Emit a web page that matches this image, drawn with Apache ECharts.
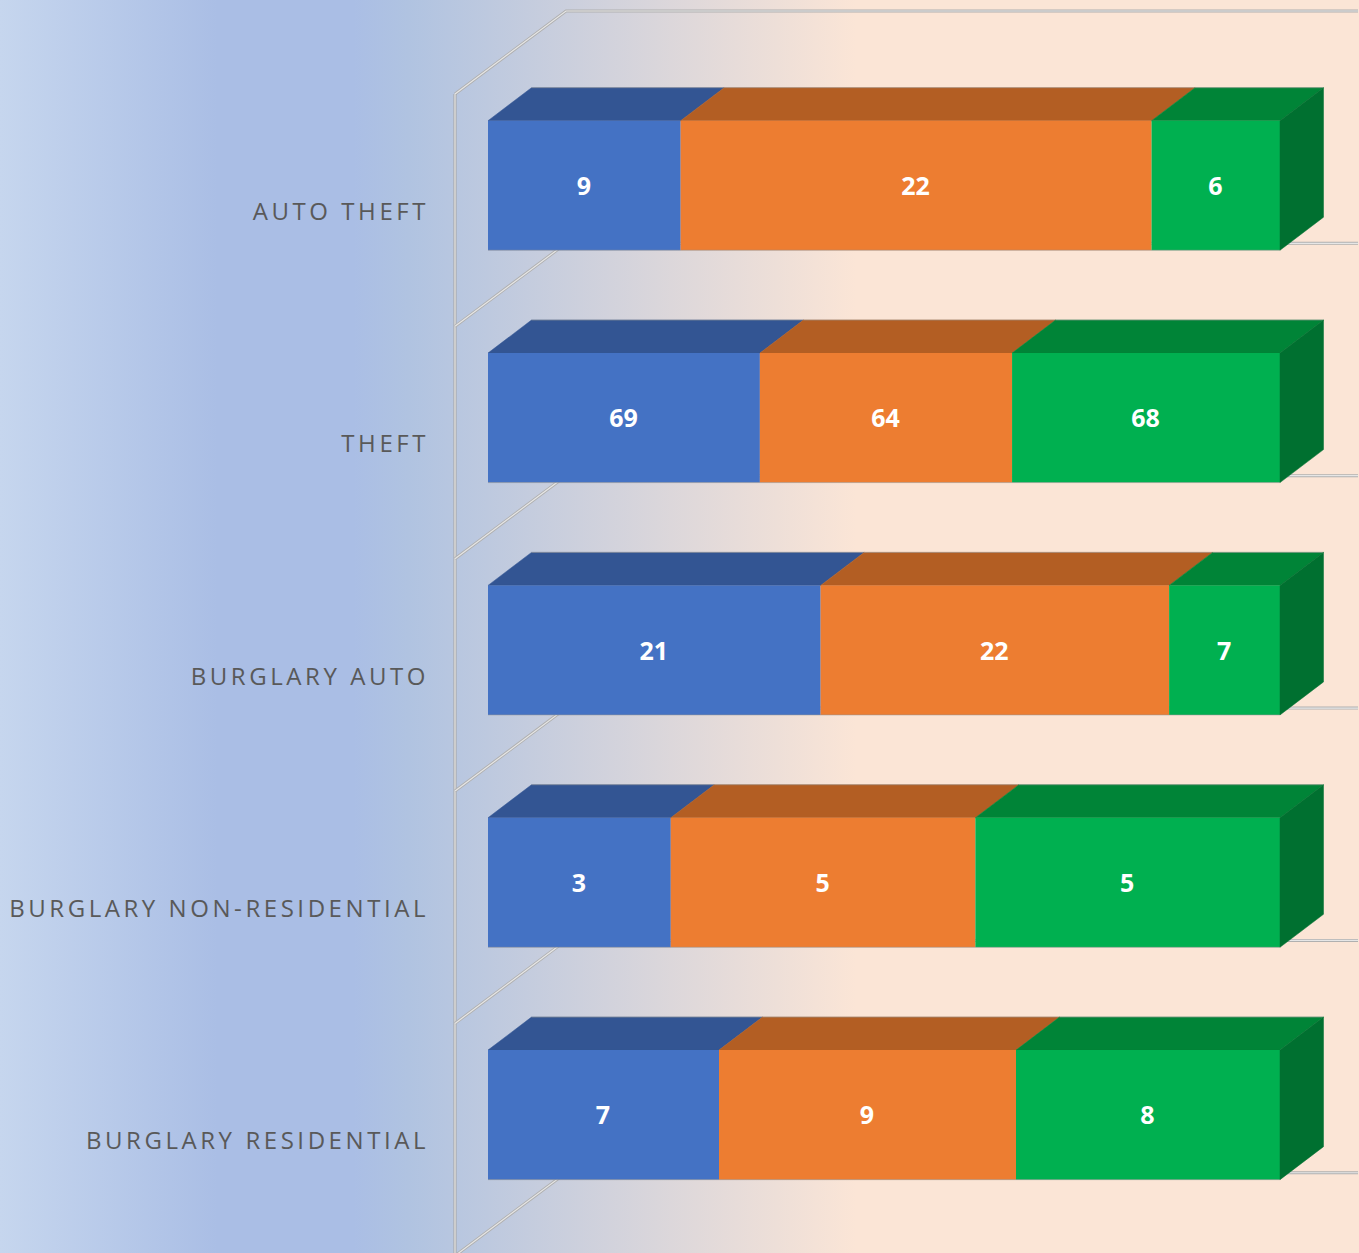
<!DOCTYPE html>
<html>
<head>
<meta charset="utf-8">
<style>
html,body{margin:0;padding:0;width:1359px;height:1253px;overflow:hidden}
#chart{width:1359px;height:1253px}
#chart text:not([style*="bold"]){letter-spacing:3.56px}
</style>
<script src="https://cdn.jsdelivr.net/npm/echarts@6/dist/echarts.min.js"></script>
</head>
<body>
<div id="chart"></div>
<script>
const categories = ['AUTO THEFT', 'THEFT', 'BURGLARY AUTO', 'BURGLARY NON-RESIDENTIAL', 'BURGLARY RESIDENTIAL'];
const seriesA = [9, 69, 21, 3, 7];
const seriesB = [22, 64, 22, 5, 9];
const seriesC = [6, 68, 7, 5, 8];
const allSeries = [seriesA, seriesB, seriesC];
const frontColors = ['#4472C4', '#ED7D31', '#00B050'];
const topColors = ['#335593', '#B35E23', '#008437'];
const sideColor = '#007030';
const barRatio = 0.5575;
const depthX = 43.5, depthY = 33;
const wallX = 111, wallY = 83, wallFrontDrop = 24.7;

function buildRows(idx) {
  return categories.map((c, i) => {
    const total = allSeries.reduce((s, a) => s + a[i], 0);
    let before = 0;
    for (let k = 0; k < idx; k++) before += allSeries[k][i];
    return [before / total, (before + allSeries[idx][i]) / total, i, allSeries[idx][i]];
  });
}

function barRender(idx) {
  return function (params, api) {
    const start = api.coord([api.value(0), api.value(2)]);
    const end = api.coord([api.value(1), api.value(2)]);
    const h = api.size([0, 1])[1] * barRatio;
    const x0 = start[0], x1 = end[0], y0 = start[1] - h / 2, y1 = start[1] + h / 2;
    const edge = 'rgba(150,150,150,0.55)';
    const children = [
      { type: 'polygon', shape: { points: [[x0, y0], [x0 + depthX, y0 - depthY], [x1 + depthX, y0 - depthY], [x1, y0]] },
        style: { fill: topColors[idx], stroke: topColors[idx], lineWidth: 0.5 } },
      { type: 'rect', shape: { x: x0, y: y0, width: x1 - x0, height: h },
        style: { fill: frontColors[idx] } },
      { type: 'line', shape: { x1: x0, y1: y1, x2: x1, y2: y1 }, style: { stroke: edge, lineWidth: 1 } },
      { type: 'line', shape: { x1: x0 + depthX, y1: y0 - depthY, x2: x1 + depthX, y2: y0 - depthY }, style: { stroke: edge, lineWidth: 1 } }
    ];
    if (idx === allSeries.length - 1) {
      children.push({ type: 'polygon', shape: { points: [[x1, y0], [x1 + depthX, y0 - depthY], [x1 + depthX, y1 - depthY], [x1, y1]] },
        style: { fill: sideColor, stroke: sideColor, lineWidth: 0.5 } });
    }
    children.push({ type: 'text', style: { text: String(api.value(3)), x: (x0 + x1) / 2 - 0.5, y: start[1] - 0.5,
      align: 'center', verticalAlign: 'middle', fill: '#FFFFFF', font: 'bold 25px "Open Sans", sans-serif' } });
    return { type: 'group', children };
  };
}

function wallRender(params, api) {
  const i = api.value(0);
  const band = api.size([0, 1])[1];
  const p0 = api.coord([0, 0]);
  const y = p0[1] - band / 2 + band * i;
  const x = p0[0];
  const right = api.coord([1, 0])[0];
  const fx = x - 33, fy = y + wallFrontDrop, bx = fx + wallX, by = fy - wallY;
  const pts = [[fx, fy], [bx, by], [right + 78, by]];
  const out = [
    { type: 'polyline', shape: { points: pts }, style: { fill: 'none', stroke: '#B0B0B0', lineWidth: 3 } },
    { type: 'polyline', shape: { points: pts }, style: { fill: 'none', stroke: '#E6E6E6', lineWidth: 1.2 } }
  ];
  if (i === 0) {
    const v = [[fx, fy], [fx, fy + band * categories.length]];
    out.push({ type: 'polyline', shape: { points: v }, style: { fill: 'none', stroke: '#A4A4A4', lineWidth: 3 } });
    out.push({ type: 'polyline', shape: { points: v }, style: { fill: 'none', stroke: '#EAEAEA', lineWidth: 1.2 } });
  }
  return { type: 'group', children: out };
}

const chart = echarts.init(document.getElementById('chart'), null, { renderer: 'svg', width: 1359, height: 1253 });
chart.setOption({
  animation: false,
  backgroundColor: {
    type: 'linear', x: 0, y: 0, x2: 1, y2: 0,
    colorStops: [
      { offset: 0, color: '#C6D6EE' },
      { offset: 0.16, color: '#AABEE5' },
      { offset: 0.26, color: '#AABEE5' },
      { offset: 0.30, color: '#B0C3E1' },
      { offset: 0.63, color: '#FBE5D6' },
      { offset: 1, color: '#FBE5D6' }
    ]
  },
  grid: { left: 488, right: 79, top: 69.3, height: 1161.75 },
  xAxis: { type: 'value', min: 0, max: 1, show: false },
  yAxis: {
    type: 'category', inverse: true, data: categories,
    axisLine: { show: false }, axisTick: { show: false },
    axisLabel: { margin: 59, color: '#595959', fontFamily: '"Open Sans", sans-serif', fontSize: 24, verticalAlign: 'top', lineHeight: 50 }
  },
  series: [
    { type: 'custom', name: 'walls', z: 1, clip: false, silent: true, renderItem: wallRender,
      data: [0, 1, 2, 3, 4, 5].map(i => [i]), encode: { x: -1, y: -1 } }
  ].concat(allSeries.map((a, idx) => ({
    type: 'custom', name: 'Series ' + (idx + 1), z: 2 + idx, clip: false, silent: true,
    renderItem: barRender(idx), data: buildRows(idx), encode: { x: [0, 1], y: 2 }
  })))
});
</script>
</body>
</html>
